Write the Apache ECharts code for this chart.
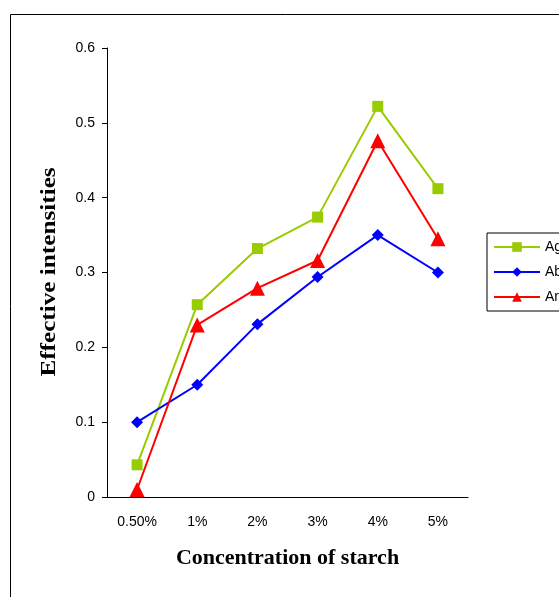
<!DOCTYPE html>
<html>
<head>
<meta charset="utf-8">
<script src="https://cdn.jsdelivr.net/npm/echarts@6/dist/echarts.min.js"></script>
<style>
  html, body { margin: 0; padding: 0; background: #fff; }
  #chart { width: 559px; height: 597px; }
</style>
</head>
<body>
<div id="chart"></div>
<script>
// concentrations on the x axis
const categories = ['0.50%', '1%', '2%', '3%', '4%', '5%']
// effective intensities
const agValues = [0.043, 0.257, 0.332, 0.374, 0.522, 0.412]
const abValues = [0.100, 0.150, 0.231, 0.294, 0.350, 0.300]
const arValues = [0.010, 0.230, 0.279, 0.316, 0.476, 0.345]

const chart = echarts.init(document.getElementById('chart'))

const labelFont = { fontFamily: 'Liberation Sans', fontSize: 14, color: '#000' }

const option = {
  animation: false,
  backgroundColor: '#fff',
  graphic: [
    {
      // outer frame, runs off the right and bottom edges
      type: 'rect',
      z: -1,
      shape: { x: 10.5, y: 14.5, width: 700, height: 700 },
      style: { fill: 'none', stroke: '#000', lineWidth: 1 }
    },
    {
      // y axis title, a bit stretched like the original
      type: 'text',
      x: 50,
      y: 272,
      rotation: Math.PI / 2,
      scaleX: 1.2,
      style: {
        text: 'Effective intensities',
        font: 'bold 21px "Liberation Serif"',
        fill: '#000',
        align: 'center',
        verticalAlign: 'middle',
        textAlign: 'center',
        textVerticalAlign: 'middle'
      }
    }
  ],
  grid: {
    left: 107,
    right: 91,
    top: 48,
    bottom: 100
  },
  legend: {
    orient: 'vertical',
    left: 487,
    top: 233,
    itemWidth: 46,
    itemHeight: 12,
    itemGap: 11,
    padding: [7, 30, 7, 6],
    borderColor: '#000',
    borderWidth: 1,
    textStyle: labelFont,
    data: ['Ag', 'Ab', 'Ar']
  },
  xAxis: {
    type: 'category',
    data: categories,
    boundaryGap: true,
    name: 'Concentration of starch',
    nameLocation: 'middle',
    nameGap: 50,
    nameTextStyle: {
      fontFamily: 'Liberation Serif',
      fontWeight: 'bold',
      fontSize: 22,
      color: '#000'
    },
    axisLine: { lineStyle: { color: '#000', width: 1 } },
    axisTick: { length: 5, lineStyle: { color: '#000' } },
    axisLabel: Object.assign({ margin: 18 }, labelFont),
    splitLine: { show: false }
  },
  yAxis: {
    type: 'value',
    min: 0,
    max: 0.6,
    interval: 0.1,
    axisLine: { show: true, lineStyle: { color: '#000', width: 1 } },
    axisTick: { show: true, length: 5, lineStyle: { color: '#000' } },
    axisLabel: Object.assign({
      margin: 12,
      formatter: function (v) { return String(Math.round(v * 10) / 10) }
    }, labelFont),
    splitLine: { show: false }
  },
  series: [
    {
      name: 'Ag',
      type: 'line',
      data: agValues,
      symbol: 'rect',
      symbolSize: 11,
      color: '#99CC00',
      lineStyle: { width: 2, color: '#99CC00' },
      itemStyle: { color: '#99CC00' }
    },
    {
      name: 'Ab',
      type: 'line',
      data: abValues,
      symbol: 'diamond',
      symbolSize: 12,
      color: '#0000FF',
      lineStyle: { width: 2, color: '#0000FF' },
      itemStyle: { color: '#0000FF' }
    },
    {
      name: 'Ar',
      type: 'line',
      data: arValues,
      symbol: 'triangle',
      symbolSize: 15,
      color: '#FF0000',
      lineStyle: { width: 2, color: '#FF0000' },
      itemStyle: { color: '#FF0000' }
    }
  ]
}

chart.setOption(option)
</script>
</body>
</html>
